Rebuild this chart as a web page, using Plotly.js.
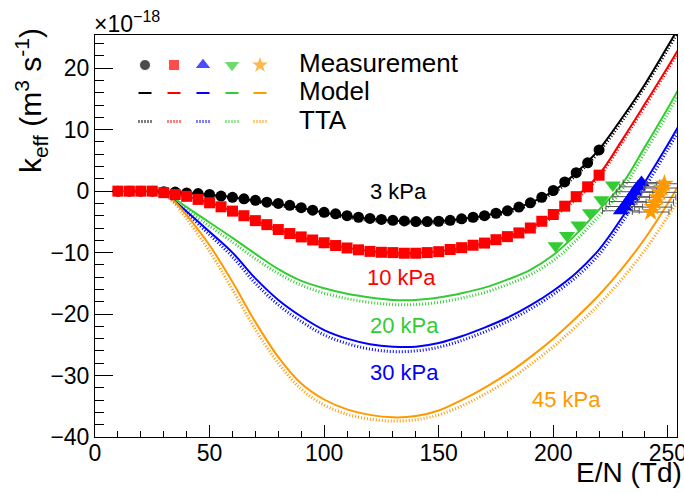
<!DOCTYPE html>
<html>
<head>
<meta charset="utf-8">
<script src="https://cdn.plot.ly/plotly-3.0.1.min.js"></script>
<style>html,body{margin:0;padding:0;background:#fff;}#chart{width:684px;height:493px;}</style>
</head>
<body>
<div id="chart"></div>
<script>
// ---------- DATA (k_eff in units of 1e-18 m^3 s^-1, E/N in Td) ----------
var E_meas = [10,15,20,25,30,35,40,45,50,55,60,65,70,75,80,85,90,95,100,105,110,115,120,125,130,135,140,145,150,155,160,165,170,175,180,185,190,195,200,205,210,215,220];
var k_meas_3kPa = [0,0,0,0,-0.1,-0.15,-0.3,-0.4,-0.55,-0.8,-1.0,-1.25,-1.5,-1.8,-2.0,-2.3,-2.7,-3.1,-3.45,-3.7,-4.0,-4.25,-4.45,-4.6,-4.75,-4.85,-4.95,-4.95,-4.9,-4.75,-4.5,-4.25,-4.0,-3.6,-3.2,-2.6,-1.9,-1.0,0.1,1.5,3.0,4.6,6.7];
var k_meas_10kPa = [0,0,0,0,-0.25,-0.55,-0.85,-1.35,-1.9,-2.55,-3.25,-4.0,-4.8,-5.45,-6.25,-6.9,-7.45,-7.95,-8.4,-8.85,-9.25,-9.55,-9.8,-9.95,-10.0,-10.1,-10.1,-10.0,-9.85,-9.5,-9.2,-8.8,-8.45,-7.9,-7.4,-6.8,-6.0,-4.9,-3.8,-2.45,-0.9,0.7,2.6];
var E_meas_20kPa = [201,206,211,216,221,226];
var k_meas_20kPa = [-8.9,-7.2,-5.5,-3.5,-1.4,1.0];
var E_meas_30kPa = [229.5,231,232.5,234,235.5,237,238.5];
var k_meas_30kPa = [-3.2,-2.5,-1.7,-0.9,-0.1,0.7,1.4];
var E_err_30kPa = [8,8,8,8,8,8,8];
var E_meas_45kPa = [242.5,243.5,244.5,245.5,246.5,247.5,248.5];
var k_meas_45kPa = [-3.4,-2.6,-1.8,-1.0,-0.2,0.5,1.2];
var E_err_45kPa = [8,8,8,8,8,8,8];

var E_calc = [20,25,30,35,40,50,60,70,80,90,100,110,120,130,140,150,160,170,180,190,200,210,220,230,240,250,255];
var model_3kPa  = [0,0,-0.1,-0.2,-0.3,-0.6,-1.0,-1.55,-2.1,-2.75,-3.5,-4.05,-4.5,-4.8,-4.95,-4.9,-4.55,-4.0,-3.2,-1.9,0.0,3.0,6.8,11.9,17.4,23.6,26.8];
var tta_3kPa    = [0,0,-0.1,-0.2,-0.35,-0.7,-1.15,-1.7,-2.3,-3.0,-3.7,-4.3,-4.75,-5.05,-5.2,-5.15,-4.85,-4.3,-3.5,-2.2,-0.3,2.6,6.4,11.4,17.0,23.1,26.3];
var model_10kPa = [0,0,-0.25,-0.55,-0.85,-1.9,-3.25,-4.8,-6.2,-7.45,-8.4,-9.2,-9.75,-10.0,-10.05,-9.8,-9.2,-8.4,-7.35,-5.95,-3.85,-0.9,2.7,8.3,14.2,20.2,23.3];
var tta_10kPa   = [0,0,-0.3,-0.65,-1.0,-2.1,-3.5,-5.1,-6.5,-7.8,-8.75,-9.55,-10.1,-10.35,-10.4,-10.15,-9.55,-8.75,-7.7,-6.3,-4.2,-1.3,2.3,7.9,13.8,19.8,22.9];
var model_20kPa = [0,0,-0.4,-1.3,-2.6,-5.1,-7.6,-10.2,-12.7,-14.6,-15.8,-16.7,-17.3,-17.7,-17.7,-17.3,-16.6,-15.7,-14.4,-12.8,-10.4,-7.0,-3.0,1.1,7.2,13.5,16.8];
var tta_20kPa   = [0,0,-0.45,-1.5,-3.0,-5.7,-8.3,-11.0,-13.4,-15.3,-16.6,-17.5,-18.1,-18.45,-18.45,-18.1,-17.4,-16.5,-15.2,-13.6,-11.3,-8.0,-4.0,0.2,6.3,12.6,15.9];
var model_30kPa = [0,0,-0.4,-1.7,-3.3,-6.6,-10.0,-14.2,-17.7,-20.4,-22.6,-24.0,-24.9,-25.3,-25.3,-24.7,-23.6,-22.2,-20.6,-18.6,-16.2,-13.3,-9.5,-4.3,1.5,7.6,10.8];
var tta_30kPa   = [0,0,-0.45,-1.9,-3.6,-7.1,-10.7,-15.0,-18.5,-21.2,-23.4,-24.8,-25.7,-26.1,-26.0,-25.4,-24.3,-22.9,-21.2,-19.2,-16.8,-14.0,-10.3,-5.1,0.6,6.8,10.0];
var model_45kPa = [0,0,-0.4,-1.8,-3.9,-8.8,-14.8,-21.3,-27.0,-31.3,-33.9,-35.5,-36.4,-36.8,-36.6,-35.7,-34.0,-32.0,-29.7,-27.0,-24.0,-20.6,-16.9,-12.6,-7.7,-2.0,1.1];
var tta_45kPa   = [0,0,-0.5,-2.1,-4.5,-9.8,-16.0,-22.5,-28.0,-32.2,-34.8,-36.3,-37.1,-37.4,-37.2,-36.4,-34.95,-33.05,-30.85,-28.2,-25.3,-22.0,-18.4,-14.3,-9.6,-4.1,-1.2];

var pressure_labels = ['3 kPa','10 kPa','20 kPa','30 kPa','45 kPa'];
var label_E = [132.6,133.9,135.2,135.2,205.9];
var label_k = [0.0,-14.1,-21.8,-29.5,-33.9];
var legend_texts = ['Measurement','Model','TTA'];

// ---------- STYLE ----------
var C = {p3:'#000000', p10:'#ff0000', p20:'#33cc33', p30:'#0000ff', p45:'#ff9900'};
var DOT = '1px,2px';

var traces = [];
function lineTrace(x, y, color, dotted){
  return {x:x, y:y, type:'scatter', mode:'lines', hoverinfo:'skip',
    line:{color:color, width: dotted?3:2, dash: dotted?DOT:'solid', shape:'spline', smoothing:1}};
}
var series = [
  [model_3kPa, tta_3kPa, C.p3],
  [model_10kPa, tta_10kPa, C.p10],
  [model_20kPa, tta_20kPa, C.p20],
  [model_30kPa, tta_30kPa, C.p30],
  [model_45kPa, tta_45kPa, C.p45]
];
series.forEach(function(s){
  traces.push(lineTrace(E_calc, s[1], s[2], true));
  traces.push(lineTrace(E_calc, s[0], s[2], false));
});

traces.push({x:E_meas, y:k_meas_3kPa, type:'scatter', mode:'markers',
  marker:{symbol:'circle', size:11, color:C.p3}});
traces.push({x:E_meas, y:k_meas_10kPa, type:'scatter', mode:'markers',
  marker:{symbol:'square', size:11, color:C.p10}});
traces.push({x:E_meas_20kPa, y:k_meas_20kPa, type:'scatter', mode:'markers',
  marker:{symbol:'triangle-down', size:14, color:C.p20}});
traces.push({x:E_meas_30kPa, y:k_meas_30kPa, type:'scatter', mode:'markers',
  error_x:{type:'data', array:E_err_30kPa, color:'#555555', thickness:1, width:3},
  marker:{symbol:'triangle-up', size:14, color:C.p30}});
traces.push({x:E_meas_45kPa, y:k_meas_45kPa, type:'scatter', mode:'markers',
  error_x:{type:'data', array:E_err_45kPa, color:'#555555', thickness:1, width:3},
  marker:{symbol:'star', size:14, color:C.p45}});

// ---------- LEGEND (overlay pixel axes) ----------
var legX = [145,174,203,232,260];
var legColors = [C.p3, C.p10, C.p30, C.p20, C.p45];
traces.push({x:legX, y:[65,65,65,65,65], xaxis:'x2', yaxis:'y2', type:'scatter', mode:'markers', hoverinfo:'skip',
  marker:{symbol:['circle','square','triangle-up','triangle-down','star'], size:[11,11,14,14,14], color:legColors}});

var shapes = [];
legX.forEach(function(x0, i){
  shapes.push({type:'line', xref:'x2', yref:'y2', x0:x0-6.5, x1:x0+6.5, y0:93, y1:93, line:{color:legColors[i], width:2}});
  shapes.push({type:'line', xref:'x2', yref:'y2', x0:x0-6.5, x1:x0+6.5, y0:121.5, y1:121.5, line:{color:legColors[i], width:3, dash:DOT}});
});

var annotations = [];
var legY = [63,91,119.5];
legend_texts.forEach(function(t,i){
  annotations.push({xref:'x2', yref:'y2', x:297, y:legY[i], text:t, showarrow:false, xanchor:'left', yanchor:'middle',
    font:{size:26, color:'black'}});
});
var labColors = [C.p3, C.p10, C.p20, C.p30, C.p45];
pressure_labels.forEach(function(t,i){
  annotations.push({x:label_E[i], y:label_k[i], text:t, showarrow:false, xanchor:'center', yanchor:'middle',
    font:{size:22, color:labColors[i]}});
});
// exponent
annotations.push({xref:'paper', yref:'paper', x:0, y:1, xanchor:'left', yanchor:'bottom', yshift:-4, xshift:-3,
  text:'×10<sup>−18</sup>', showarrow:false, font:{size:23, color:'black'}});
// axis titles
annotations.push({xref:'paper', yref:'paper', x:1.012, y:-0.088, xanchor:'right', yanchor:'middle',
  text:'E/N (Td)', showarrow:false, font:{size:28, color:'black'}});
annotations.push({xref:'paper', yref:'paper', x:-0.11, y:0.838, xanchor:'center', yanchor:'middle', textangle:-90,
  text:'k<sub>eff</sub> (m<sup>3</sup> s<sup>-1</sup>)', showarrow:false, font:{size:30, color:'black'}});

var axisCommon = {ticks:'inside', tickwidth:1, tickcolor:'black', showline:true, linecolor:'black', linewidth:1,
  mirror:true, showgrid:false, zeroline:false, ticklabeloverflow:'allow', tickfont:{size:23, color:'black'}};

var layout = {
  width:684, height:493,
  margin:{l:95, r:7, t:35, b:56, pad:0},
  paper_bgcolor:'white', plot_bgcolor:'white',
  showlegend:false,
  font:{family:'Liberation Sans, Arial, sans-serif', color:'black'},
  xaxis:Object.assign({}, axisCommon, {range:[0,254], tick0:0, dtick:50, ticklen:12, ticklabelstandoff:-5,
    minor:{dtick:10, tick0:0, ticks:'inside', ticklen:6, tickcolor:'black', tickwidth:1, showgrid:false}}),
  yaxis:Object.assign({}, axisCommon, {range:[-40,25.4], tick0:0, dtick:10, ticklen:18,
    minor:{dtick:2, tick0:0, ticks:'inside', ticklen:9, tickcolor:'black', tickwidth:1, showgrid:false}}),
  xaxis2:{overlaying:'x', range:[95,677], visible:false, fixedrange:true},
  yaxis2:{overlaying:'y', range:[437,35], visible:false, fixedrange:true},
  shapes:shapes,
  annotations:annotations
};

Plotly.newPlot('chart', traces, layout, {staticPlot:true, displayModeBar:false});
</script>
</body>
</html>
